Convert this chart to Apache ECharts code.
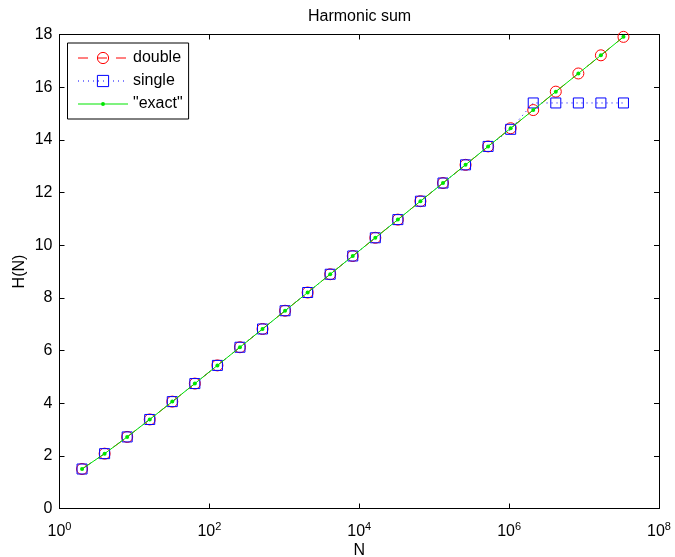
<!DOCTYPE html>
<html>
<head>
<meta charset="utf-8">
<script src="https://cdn.jsdelivr.net/npm/echarts@6/dist/echarts.min.js"></script>
<style>
  html, body { margin: 0; padding: 0; background: #fff; }
  #chart { width: 675px; height: 557px; }
</style>
</head>
<body>
<div id="chart"></div>
<script>
// N = 2^1 .. 2^25
const nValues = [2, 4, 8, 16, 32, 64, 128, 256, 512, 1024, 2048, 4096, 8192,
  16384, 32768, 65536, 131072, 262144, 524288, 1048576, 2097152, 4194304,
  8388608, 16777216, 33554432];
const hDouble = [1.5, 2.083, 2.718, 3.381, 4.059, 4.744, 5.434, 6.124, 6.817,
  7.510, 8.202, 8.896, 9.589, 10.28, 10.97, 11.67, 12.36, 13.05, 13.75, 14.44,
  15.13, 15.83, 16.52, 17.21, 17.91];
const hSingle = [1.5, 2.083, 2.718, 3.381, 4.059, 4.744, 5.434, 6.124, 6.817,
  7.510, 8.202, 8.896, 9.589, 10.28, 10.97, 11.67, 12.36, 13.05, 13.75, 14.40,
  15.40, 15.40, 15.40, 15.40, 15.40];
const hExact = [1.5, 2.083, 2.718, 3.381, 4.059, 4.744, 5.434, 6.124, 6.817,
  7.510, 8.202, 8.896, 9.589, 10.28, 10.97, 11.67, 12.36, 13.05, 13.75, 14.44,
  15.13, 15.83, 16.52, 17.21, 17.91];
const xTicks = [1, 100, 10000, 1000000, 100000000];
const yTicks = [0, 2, 4, 6, 8, 10, 12, 14, 16, 18];

const font = "'Liberation Sans', Arial, sans-serif";
const pairs = (ys) => nValues.map((n, i) => [n, ys[i]]);

const chart = echarts.init(document.getElementById("chart"));

const baseX = {
  type: "log",
  logBase: 10,
  min: xTicks[0],
  max: xTicks[xTicks.length - 1],
  axisLine: { onZero: false, lineStyle: { color: "#000", width: 1 } },
  axisTick: { inside: true, length: 5, customValues: xTicks, lineStyle: { color: "#000" } },
  splitLine: { show: false },
  minorTick: { show: false },
};

const baseY = {
  type: "value",
  min: yTicks[0],
  max: yTicks[yTicks.length - 1],
  interval: 2,
  axisLine: { show: true, lineStyle: { color: "#000", width: 1 } },
  axisTick: { show: true, inside: true, length: 5, lineStyle: { color: "#000" } },
  splitLine: { show: false },
};

// small green line-with-dot icon for the "exact" legend entry
const exactIcon = "path://M0,6.5L50,6.5L50,7.5L0,7.5Z M23,7A2,2 0 1,1 27,7A2,2 0 1,1 23,7Z";

chart.setOption({
  animation: false,
  backgroundColor: "#fff",
  textStyle: { fontFamily: font },
  title: {
    text: "Harmonic sum",
    left: 303,
    top: 4,
    textStyle: { fontFamily: font, fontSize: 16, fontWeight: "normal", color: "#000" },
  },
  grid: {
    left: 59.5,
    right: 16,
    top: 34.5,
    bottom: 48.5,
    containLabel: false,
    outerBoundsMode: "none",
  },
  legend: {
    orient: "vertical",
    left: 67.5,
    top: 43,
    padding: [7, 6, 7, 10],
    itemWidth: 50,
    itemHeight: 14,
    itemGap: 7,
    backgroundColor: "#fff",
    borderColor: "#000",
    borderWidth: 1,
    borderRadius: 0,
    itemStyle: { borderWidth: 1 },
    lineStyle: { width: 1 },
    textStyle: { fontFamily: font, fontSize: 16, color: "#000" },
    data: [
      { name: "double" },
      { name: "single" },
      { name: "\"exact\"", icon: exactIcon, itemStyle: { color: "#00e600", borderWidth: 0 } },
    ],
  },
  xAxis: [
    {
      ...baseX,
      position: "bottom",
      name: "N",
      nameLocation: "middle",
      nameGap: 34,
      nameMoveOverlap: false,
      nameTextStyle: { fontFamily: font, fontSize: 16, color: "#000" },
      axisLabel: {
        color: "#000",
        margin: 13,
        customValues: xTicks,
        formatter: (v) => "10{sup|" + Math.round(Math.log10(v)) + "}",
        rich: {
          sup: { fontFamily: font, fontSize: 11, color: "#000", padding: [0, 0, 9, 0] },
        },
        fontFamily: font,
        fontSize: 16,
      },
    },
    {
      ...baseX,
      position: "top",
      axisLabel: { show: false },
    },
  ],
  yAxis: [
    {
      ...baseY,
      position: "left",
      name: "H(N)",
      nameLocation: "middle",
      nameGap: 32,
      nameMoveOverlap: false,
      nameTextStyle: { fontFamily: font, fontSize: 16, color: "#000" },
      axisLabel: { color: "#000", fontFamily: font, fontSize: 16, margin: 7 },
    },
    {
      ...baseY,
      position: "right",
      axisLabel: { show: false },
    },
  ],
  series: [
    {
      name: "double",
      type: "line",
      data: pairs(hDouble),
      symbol: "circle",
      symbolSize: 11,
      showAllSymbol: true,
      lineStyle: { color: "#ff0000", width: 1, type: [10, 9] },
      itemStyle: { color: "rgba(255,255,255,0)", borderColor: "#ff0000", borderWidth: 1 },
      z: 2,
    },
    {
      name: "single",
      type: "line",
      data: pairs(hSingle),
      symbol: "rect",
      symbolSize: 10,
      showAllSymbol: true,
      lineStyle: { color: "#0000ff", width: 1, type: [1, 4] },
      itemStyle: { color: "rgba(255,255,255,0)", borderColor: "#0000ff", borderWidth: 1 },
      z: 3,
    },
    {
      name: "\"exact\"",
      type: "line",
      data: pairs(hExact),
      symbol: "circle",
      symbolSize: 4,
      showAllSymbol: true,
      lineStyle: { color: "#00e600", width: 1 },
      itemStyle: { color: "#00e600" },
      z: 4,
    },
  ],
});
</script>
</body>
</html>
